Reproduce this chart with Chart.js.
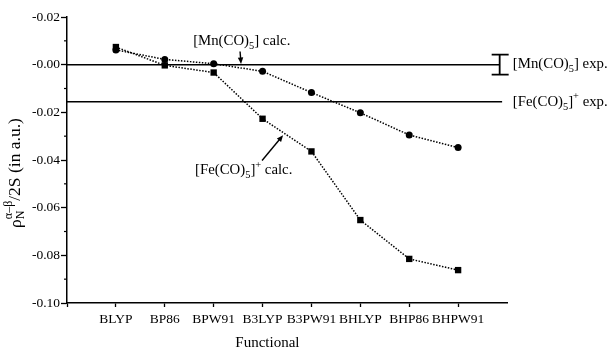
<!DOCTYPE html>
<html>
<head>
<meta charset="utf-8">
<title>Spin density by functional</title>
<script src="https://cdn.jsdelivr.net/npm/chart.js@4"></script>
<style>
  html, body { margin: 0; padding: 0; background: #fff; }
  #wrap { width: 608px; height: 358px; }
</style>
</head>
<body>
<div id="wrap"><canvas id="chart" width="608" height="358"></canvas></div>
<script>
const functionals = ["BLYP", "BP86", "BPW91", "B3LYP", "B3PW91", "BHLYP", "BHP86", "BHPW91"];
const mnCalc = [0.0062, 0.0022, 0.0004, -0.0028, -0.0117, -0.0202, -0.0295, -0.0348];
const feCalc = [0.0074, -0.0003, -0.0033, -0.0227, -0.0364, -0.0652, -0.0815, -0.0862];

const mnExp = 0.0;
const mnExpErr = 0.0042;
const feExp = -0.0156;
const expLineEnd = [8.85, 8.9]; // x extent of the two experimental lines

const yTickValues = [-0.10, -0.09, -0.08, -0.07, -0.06, -0.05, -0.04, -0.03, -0.02, -0.01, 0.00, 0.01, 0.02];
const yTickLabels = ["-0.10", "", "-0.08", "", "-0.06", "", "-0.04", "", "-0.02", "", "-0.00", "", "-0.02"];

// text labels: [x, y] in data units, left/middle anchored
const labels = [
  { at: [2.58, 0.0097], parts: [["[Mn(CO)", 0], ["5", -1], ["] calc.", 0]] },
  { at: [2.62, -0.0444], parts: [["[Fe(CO)", 0], ["5", -1], ["]", 0], ["+", 1], [" calc.", 0]] },
  { at: [9.12, 0.0004], parts: [["[Mn(CO)", 0], ["5", -1], ["] exp.", 0]] },
  { at: [9.12, -0.0156], parts: [["[Fe(CO)", 0], ["5", -1], ["]", 0], ["+", 1], [" exp.", 0]] }
];
const arrows = [
  { from: [3.54, 0.0055], to: [3.56, 0.0003] },
  { from: [3.99, -0.0402], to: [4.42, -0.0296] }
];

const SERIF = "'Liberation Serif', 'DejaVu Serif', serif";

function drawRich(ctx, parts, x, y, size) {
  ctx.textBaseline = "middle";
  ctx.textAlign = "left";
  parts.forEach(([txt, kind]) => {
    const s = kind === 0 ? size : size * 0.7;
    ctx.font = s + "px " + SERIF;
    const dy = kind === -1 ? size * 0.35 : kind === 1 ? -size * 0.35 : 0;
    ctx.fillText(txt, x, y + dy);
    x += ctx.measureText(txt).width;
  });
}

const decorations = {
  id: "decorations",
  afterDatasetsDraw(chart) {
    const { ctx, scales: { x, y } } = chart;
    ctx.save();
    ctx.fillStyle = "#000";
    ctx.strokeStyle = "#000";

    // minor y ticks
    ctx.lineWidth = 1.2;
    yTickValues.forEach((v, i) => {
      if (yTickLabels[i] !== "") return;
      const py = y.getPixelForValue(v);
      ctx.beginPath();
      ctx.moveTo(x.left - 3, py);
      ctx.lineTo(x.left, py);
      ctx.stroke();
    });

    // error bar on the Mn experimental value
    const ex = x.getPixelForValue(expLineEnd[0]);
    const et = y.getPixelForValue(mnExp + mnExpErr);
    const eb = y.getPixelForValue(mnExp - mnExpErr);
    ctx.lineWidth = 1.8;
    ctx.beginPath();
    ctx.moveTo(ex, et); ctx.lineTo(ex, eb);
    ctx.moveTo(ex - 8, et); ctx.lineTo(ex + 9, et);
    ctx.moveTo(ex - 8, eb); ctx.lineTo(ex + 9, eb);
    ctx.stroke();

    // arrows
    arrows.forEach(a => {
      const x0 = x.getPixelForValue(a.from[0]), y0 = y.getPixelForValue(a.from[1]);
      const x1 = x.getPixelForValue(a.to[0]), y1 = y.getPixelForValue(a.to[1]);
      const ang = Math.atan2(y1 - y0, x1 - x0);
      ctx.lineWidth = 1.4;
      ctx.beginPath();
      ctx.moveTo(x0, y0);
      ctx.lineTo(x1 - 4 * Math.cos(ang), y1 - 4 * Math.sin(ang));
      ctx.stroke();
      ctx.beginPath();
      ctx.moveTo(x1, y1);
      ctx.lineTo(x1 - 7 * Math.cos(ang - 0.4), y1 - 7 * Math.sin(ang - 0.4));
      ctx.lineTo(x1 - 7 * Math.cos(ang + 0.4), y1 - 7 * Math.sin(ang + 0.4));
      ctx.closePath();
      ctx.fill();
    });

    // text labels
    labels.forEach(l => {
      drawRich(ctx, l.parts, x.getPixelForValue(l.at[0]), y.getPixelForValue(l.at[1]), 14.8);
    });

    // x title
    ctx.font = "15px " + SERIF;
    ctx.textAlign = "center";
    ctx.textBaseline = "middle";
    ctx.fillText("Functional", x.getPixelForValue(4.1), 343);

    // y title (rotated, with sub/superscript)
    ctx.translate(15, (y.top + y.bottom) / 2 + 13);
    ctx.rotate(-Math.PI / 2);
    const big = 17.5, small = 12;
    ctx.font = big + "px " + SERIF;
    const w1 = ctx.measureText("\u03C1").width;
    const w3 = ctx.measureText("/2S (in a.u.)").width;
    ctx.font = small + "px " + SERIF;
    const w2 = ctx.measureText("\u03B1\u2013\u03B2").width;
    let px = -(w1 + w2 + w3) / 2;
    ctx.textAlign = "left";
    ctx.textBaseline = "middle";
    ctx.font = big + "px " + SERIF;
    ctx.fillText("\u03C1", px, 1);
    px += w1;
    ctx.font = small + "px " + SERIF;
    ctx.fillText("N", px, 6);
    ctx.fillText("\u03B1\u2013\u03B2", px, -6);
    px += w2;
    ctx.font = big + "px " + SERIF;
    ctx.fillText("/2S (in a.u.)", px, 0);
    ctx.restore();
  }
};

const pts = arr => arr.map((v, i) => ({ x: i + 1, y: v }));

new Chart(document.getElementById("chart"), {
  type: "line",
  data: {
    datasets: [
      {
        label: "[Fe(CO)5]+ calc.",
        data: pts(feCalc),
        borderColor: "#000",
        backgroundColor: "#000",
        borderWidth: 1.5,
        borderDash: [1.5, 1.5],
        pointStyle: "rect",
        pointRadius: 4.5,
        pointBorderWidth: 0
      },
      {
        label: "[Mn(CO)5] calc.",
        data: pts(mnCalc),
        borderColor: "#000",
        backgroundColor: "#000",
        borderWidth: 1.5,
        borderDash: [1.5, 1.5],
        pointStyle: "circle",
        pointRadius: 3.5,
        pointBorderWidth: 0
      },
      {
        label: "[Mn(CO)5] exp.",
        data: [{ x: 0, y: mnExp }, { x: expLineEnd[0], y: mnExp }],
        borderColor: "#000",
        borderWidth: 1.5,
        pointRadius: 0
      },
      {
        label: "[Fe(CO)5]+ exp.",
        data: [{ x: 0, y: feExp }, { x: expLineEnd[1], y: feExp }],
        borderColor: "#000",
        borderWidth: 1.5,
        pointRadius: 0
      }
    ]
  },
  options: {
    responsive: false,
    animation: false,
    clip: false,
    layout: { padding: { left: 0, top: 17, right: 101, bottom: 0 } },
    plugins: { legend: { display: false }, tooltip: { enabled: false } },
    scales: {
      x: {
        type: "linear",
        min: 0,
        max: 9,
        afterFit: s => { s.height = 55; },
        afterBuildTicks: s => { s.ticks = [0, ...functionals.map((f, i) => i + 1)].map(v => ({ value: v })); },
        grid: { drawOnChartArea: false, drawTicks: true, tickLength: 4, tickColor: "#000", tickWidth: 1.3 },
        border: { display: true, color: "#000", width: 1.5 },
        ticks: {
          color: "#000",
          padding: 4,
          maxRotation: 0,
          autoSkip: false,
          font: { family: SERIF, size: 13.5 },
          callback: v => functionals[v - 1] || ""
        }
      },
      y: {
        type: "linear",
        min: -0.10,
        max: 0.02,
        afterFit: s => { s.width = 67; },
        afterBuildTicks: s => { s.ticks = yTickValues.map(v => ({ value: v })); },
        grid: {
          drawOnChartArea: false,
          drawTicks: true,
          tickLength: 6,
          tickWidth: 1.3,
          tickColor: ctx => (yTickLabels[ctx.index] ? "#000" : "rgba(0,0,0,0)")
        },
        border: { display: true, color: "#000", width: 1.5 },
        ticks: {
          color: "#000",
          padding: 1,
          autoSkip: false,
          font: { family: SERIF, size: 13.5 },
          callback: (v, i) => yTickLabels[i]
        }
      }
    }
  },
  plugins: [decorations]
});
</script>
</body>
</html>
